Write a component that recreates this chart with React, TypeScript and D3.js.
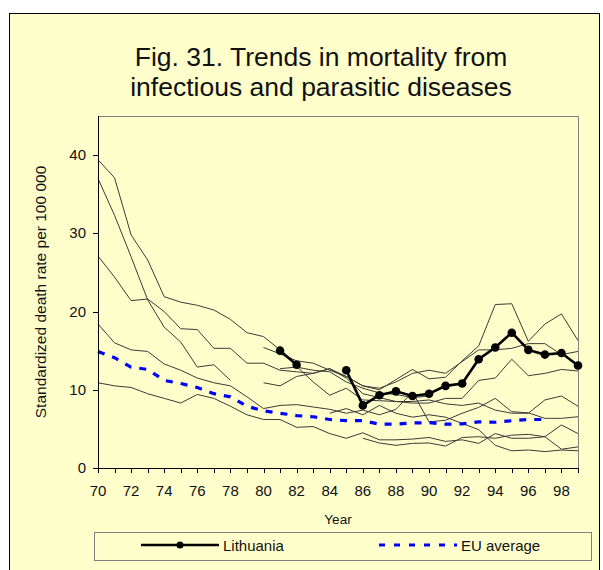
import React from 'react';
import * as d3 from 'd3';

type V = number | null;

const years: number[] = d3.range(70, 100);
const xTickLabels = ['70', '72', '74', '76', '78', '80', '82', '84', '86', '88', '90', '92', '94', '96', '98'];
const yTicks = [0, 10, 20, 30, 40];

// Lithuania (gap in 83-84)
const lithuania: V[] = [
  null, null, null, null, null, null, null, null, null, null,
  null, 15.0, 13.2, null, null, 12.5, 8.0, 9.3, 9.8, 9.2,
  9.5, 10.5, 10.8, 13.9, 15.4, 17.3, 15.1, 14.5, 14.7, 13.1,
];

const euAverage: V[] = [
  14.9, 14.1, 12.9, 12.6, 11.2, 10.8, 10.3, 9.5, 9.1, 7.9,
  7.3, 7.0, 6.7, 6.55, 6.2, 6.05, 6.05, 5.6, 5.6, 5.75,
  5.8, 5.6, 5.65, 5.9, 5.85, 6.05, 6.2, 6.2, null, null,
];

// other countries, grey lines
const others: V[][] = [
  [39.4, 37.1, 29.8, 26.6, 21.9, 21.2, 20.8, 20.2, 19.0, 17.3,
    16.8, 15.1, 13.0, 11.0, 9.3, 10.2, 8.7, 8.6, 8.5, 8.5,
    8.7, 8.2, 8.0, 8.3, 7.4, 7.0, 7.0, 8.7, 9.2, 7.9],
  [37.0, 32.3, 27.0, 21.5, 18.0, 16.1, 12.9, 13.2, 11.2, null,
    null, null, null, null, null, null, null, null, null, null,
    null, null, null, null, null, null, null, null, null, null],
  [27.1, 24.4, 21.4, 21.6, 20.0, 17.8, 17.7, 15.3, 15.3, 13.4,
    13.4, 12.5, 12.3, 12.1, 12.7, 11.7, 10.5, 10.2, 11.0, 12.1,
    12.5, 12.1, 13.6, 15.1, 15.1, 15.3, 15.9, 15.9, 14.5, 14.9],
  [18.4, 16.0, 15.1, 14.9, 13.3, 12.5, 11.5, 10.9, 10.5, 9.1,
    7.6, 8.0, 8.1, 7.8, 7.5, 7.0, 7.4, 6.8, 7.5, 9.7,
    5.9, 6.1, 7.0, 7.75, 8.9, 7.2, 7.05, 6.35, 6.35, 6.55],
  [10.9, 10.5, 10.3, 9.5, 8.9, 8.3, 9.4, 8.9, 7.9, 6.8,
    6.2, 6.2, 5.2, 5.3, 4.4, 3.8, 4.5, 3.6, 3.6, 3.7,
    3.9, 3.4, 3.6, 3.15, 4.4, 3.8, 3.8, 4.0, 5.5, 4.4],
  [null, null, null, null, null, null, null, null, null, null,
    null, null, null, null, null, null, 3.8, 3.2, 2.9, 3.15,
    3.2, 2.8, 3.9, 4.0, 3.8, 4.2, 4.3, 4.0, 2.4, 2.7],
  [null, null, null, null, null, null, null, null, null, null,
    15.4, 14.6, 13.7, 13.4, 12.5, 11.7, 10.5, 10.0, 11.3, 12.6,
    11.4, 11.6, 13.7, 15.6, 20.9, 21.0, 16.2, 18.4, 19.7, 16.3],
  [null, null, null, null, null, null, null, null, null, null,
    10.9, 10.5, 11.7, 12.1, 12.7, 11.5, 9.5, 9.0, 8.5, 8.3,
    8.3, 8.9, 8.9, 11.2, 11.5, 13.9, 11.8, 12.1, 12.6, 12.4],
  [null, null, null, null, null, null, null, null, null, null,
    null, null, null, null, 7.0, 7.6, 6.8, 8.0, 7.0, 6.5,
    6.8, 6.5, 5.7, 4.9, 2.9, 2.2, 2.3, 2.1, 2.3, 2.2],
  [null, null, null, null, null, null, null, null, null, null,
    null, 12.7, 12.9, 12.5, 12.3, 11.0, 10.2, 9.6, 9.4, 9.0,
    9.2, null, null, null, null, null, null, null, null, null],
];

const font = 'Arial, "Liberation Sans", sans-serif';
const bg = '#FFFFCC';

const App: React.FC = () => {
  const width = 603;
  const height = 570;
  const margin = { left: 98, top: 116, right: 578, bottom: 468 };

  const x = d3.scaleLinear().domain([70, 99]).range([margin.left, margin.right]);
  const y = d3.scaleLinear().domain([0, 45]).range([margin.bottom, margin.top]);

  const line = d3.line<V>()
    .defined(d => d !== null)
    .x((_, i) => x(years[i]))
    .y(d => y(d as number));

  return (
    <div style={{ position: 'absolute', left: 0, top: 0 }}>
      <svg width={width} height={height} style={{ display: 'block', background: '#fff' }}>
        <rect x={9.5} y={13.5} width={590} height={570} fill={bg} stroke="#000" strokeWidth={1} />

        <text x={321} y={66} textAnchor="middle" fontFamily={font} fontSize={26.5} fill="#111">
          Fig. 31. Trends in mortality from
        </text>
        <text x={321} y={96} textAnchor="middle" fontFamily={font} fontSize={26.5} fill="#111">
          infectious and parasitic diseases
        </text>

        {/* plot frame */}
        <path d={`M${margin.left},${margin.top + 0.5}H${margin.right + 0.5}V${margin.bottom}`}
          fill="none" stroke="#808080" strokeWidth={1} />

        {/* grey lines */}
        {others.map((s, i) => (
          <path key={i} d={line(s) || ''} fill="none" stroke="#3a3a3a" strokeWidth={1} />
        ))}

        <path d={line(euAverage) || ''} fill="none" stroke="#0000FF" strokeWidth={3.2} strokeDasharray="7,8" />

        <path d={line(lithuania) || ''} fill="none" stroke="#000" strokeWidth={2.6} />
        {lithuania.map((d, i) => d === null ? null : (
          <circle key={i} cx={x(years[i])} cy={y(d)} r={4.3} fill="#000" />
        ))}

        {/* y axis */}
        <line x1={margin.left + 0.5} x2={margin.left + 0.5} y1={margin.top} y2={margin.bottom} stroke="#000" />
        {yTicks.map(t => (
          <g key={t}>
            <line x1={margin.left - 5} x2={margin.left} y1={Math.round(y(t)) + 0.5} y2={Math.round(y(t)) + 0.5} stroke="#000" />
            <text x={margin.left - 12} y={y(t) + 5} textAnchor="end" fontFamily={font} fontSize={15} fill="#111">{t}</text>
          </g>
        ))}

        {/* x axis */}
        <line x1={margin.left} x2={margin.right + 0.5} y1={margin.bottom + 0.5} y2={margin.bottom + 0.5} stroke="#000" />
        {years.map(yr => (
          <line key={yr} x1={Math.round(x(yr)) + 0.5} x2={Math.round(x(yr)) + 0.5}
            y1={margin.bottom} y2={margin.bottom + 5} stroke="#000" />
        ))}
        {xTickLabels.map(l => (
          <text key={l} x={x(+l)} y={496} textAnchor="middle" fontFamily={font} fontSize={15} fill="#111">{l}</text>
        ))}

        <text x={338} y={524} textAnchor="middle" fontFamily={font} fontSize={13.5} fill="#111">Year</text>
        <text transform="translate(46,292) rotate(-90)" textAnchor="middle" fontFamily={font} fontSize={15.5} fill="#111">
          Standardized death rate per 100 000
        </text>

        {/* legend */}
        <rect x={94.5} y={532.5} width={497} height={28} fill={bg} stroke="#808080" />
        <line x1={141} x2={219} y1={545} y2={545} stroke="#000" strokeWidth={2.6} />
        <circle cx={180} cy={545} r={3.5} fill="#000" />
        <text x={223} y={551} fontFamily={font} fontSize={15} fill="#111">Lithuania</text>
        <line x1={379} x2={457} y1={545} y2={545} stroke="#0000FF" strokeWidth={3} strokeDasharray="6,9" />
        <text x={461} y={551} fontFamily={font} fontSize={15} fill="#111">EU average</text>
      </svg>
    </div>
  );
};

export default App;
